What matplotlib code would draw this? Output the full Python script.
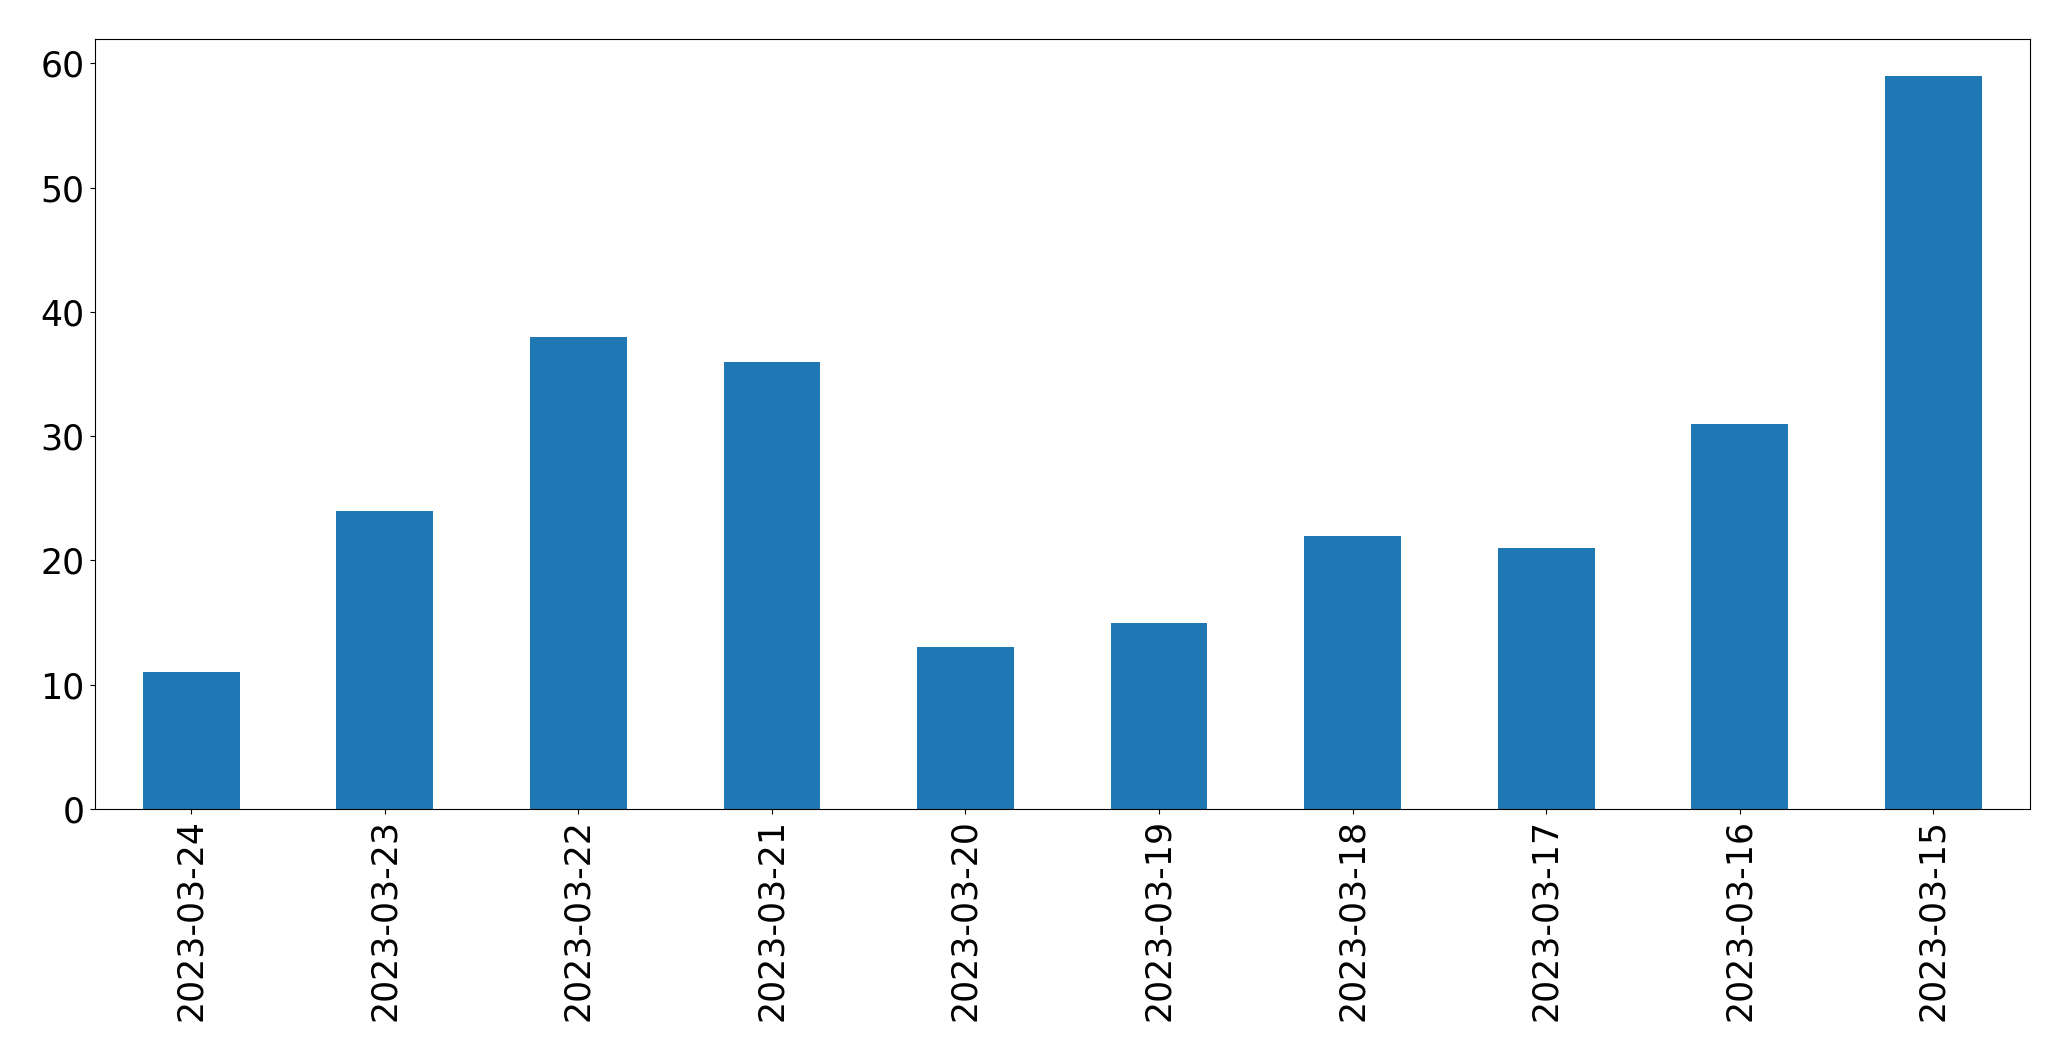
import numpy as np
import matplotlib
matplotlib.use("Agg")
import matplotlib.pyplot as plt

dates = ["2023-03-24", "2023-03-23", "2023-03-22", "2023-03-21", "2023-03-20",
         "2023-03-19", "2023-03-18", "2023-03-17", "2023-03-16", "2023-03-15"]
counts = [11, 24, 38, 36, 13, 15, 22, 21, 31, 59]

fig, ax = plt.subplots(figsize=(20.71, 10.61), dpi=100)
fig.subplots_adjust(left=94.5 / 2071, right=2030 / 2071, top=1 - 39 / 1061, bottom=1 - 809 / 1061)

x = np.arange(len(dates))
ax.bar(x, counts, width=0.5, color="#1f77b4")
ax.set_xticks(x)
ax.set_xticklabels(dates, rotation=90)
ax.set_xlim(-0.5, len(dates) - 0.5)
ax.tick_params(axis="both", labelsize=25)

fig.savefig("out.png", dpi=100)
